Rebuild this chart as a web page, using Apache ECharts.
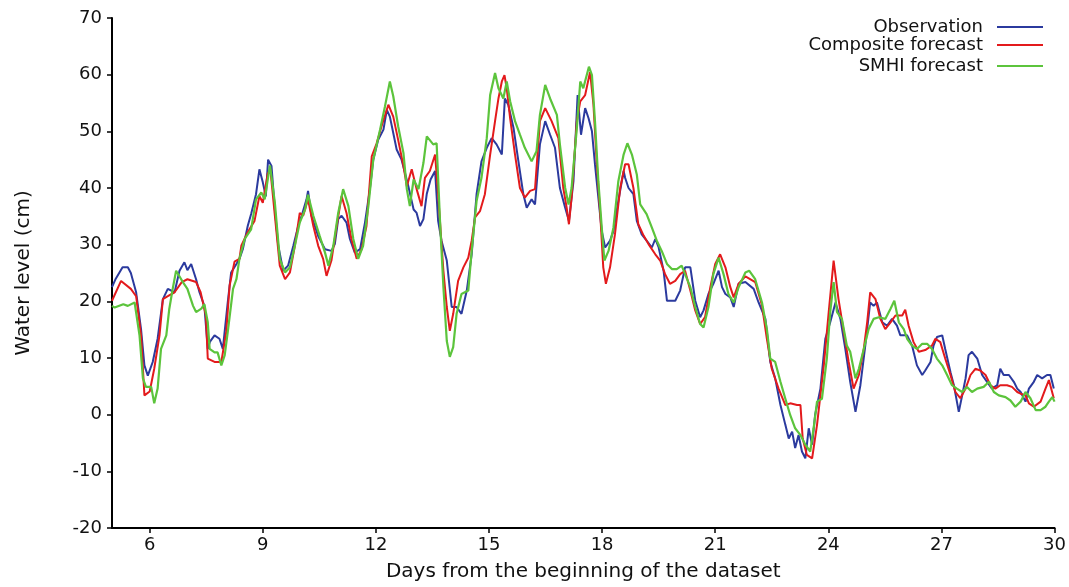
<!DOCTYPE html>
<html>
<head>
<meta charset="utf-8">
<script src="https://cdn.jsdelivr.net/npm/echarts@6/dist/echarts.min.js"></script>
<style>html,body{margin:0;padding:0;background:#fff}#c{width:1069px;height:587px}</style>
</head>
<body>
<div id="c"></div>
<script>
const xTicks = [6, 9, 12, 15, 18, 21, 24, 27, 30];
const seriesNames = ['Observation', 'Composite forecast', 'SMHI forecast'];

const observation = [[5.0,22.5],[5.1,24],[5.28,26],[5.42,26],[5.5,25],[5.64,21.6],[5.77,15.1],[5.86,8.7],[5.95,6.9],[6.08,9.3],[6.21,13.4],[6.35,20.4],[6.48,22.2],[6.66,21.6],[6.79,25.4],[6.92,26.9],[7.0,25.5],[7.1,26.6],[7.23,23.9],[7.32,21.6],[7.45,19.2],[7.54,11.6],[7.6,12.9],[7.72,14],[7.85,13.4],[7.94,11.6],[8.07,19.8],[8.16,25.1],[8.3,26.6],[8.38,27.5],[8.47,29.2],[8.6,33.3],[8.69,35.4],[8.82,38.9],[8.91,43.3],[9.0,41],[9.08,38.5],[9.14,45],[9.23,43.9],[9.32,36.2],[9.41,29.8],[9.54,25.4],[9.67,26.3],[9.81,29.8],[9.94,33.3],[10.03,35.1],[10.16,38],[10.2,39.5],[10.29,35.1],[10.47,31.5],[10.65,29.2],[10.82,28.9],[10.91,30.1],[11.0,34.5],[11.09,35.1],[11.22,33.9],[11.31,31],[11.44,28.6],[11.58,29.2],[11.71,33.9],[11.84,39.8],[11.93,45],[12.06,48.5],[12.2,50.3],[12.29,53.8],[12.37,52.6],[12.46,49.7],[12.55,46.8],[12.68,45],[12.77,42.7],[12.86,40.3],[13.0,36.2],[13.08,35.6],[13.17,33.3],[13.26,34.5],[13.35,39],[13.45,41.5],[13.57,43],[13.65,34.2],[13.74,30.7],[13.88,27.2],[14.01,19],[14.14,19],[14.27,17.8],[14.41,21.9],[14.54,28.3],[14.67,38.9],[14.8,44.7],[14.94,47.1],[15.07,48.8],[15.2,47.7],[15.34,45.9],[15.42,55.8],[15.51,54.7],[15.65,50.6],[15.78,44.7],[15.91,38.9],[16.0,36.5],[16.13,38],[16.22,37.1],[16.35,47.7],[16.49,51.8],[16.62,49.4],[16.75,47.1],[16.88,40],[17.02,36.5],[17.12,34.2],[17.24,41.2],[17.35,56.4],[17.44,49.4],[17.55,54.1],[17.64,52.3],[17.73,50],[17.81,44.2],[17.9,38.3],[17.99,32.4],[18.08,29.5],[18.21,30.7],[18.3,32.4],[18.43,37.7],[18.57,43],[18.61,41.8],[18.7,40],[18.83,38.9],[18.92,34.2],[19.05,31.8],[19.18,30.7],[19.32,29.5],[19.41,31],[19.5,29.5],[19.63,25.4],[19.72,20.1],[19.94,20.1],[20.07,21.9],[20.2,26],[20.34,26],[20.47,20.1],[20.6,17.2],[20.69,18.4],[20.82,21.3],[20.95,23.1],[21.09,25.4],[21.18,22.5],[21.27,21.3],[21.4,20.7],[21.49,19],[21.62,23.1],[21.8,23.4],[22.02,22.2],[22.15,19.8],[22.33,16.9],[22.46,9.3],[22.59,6.4],[22.73,1.7],[22.86,-1.8],[22.95,-4.2],[23.04,-3],[23.12,-5.9],[23.21,-3.6],[23.3,-6.5],[23.39,-7.7],[23.48,-2.4],[23.57,-5.3],[23.65,0],[23.79,4.6],[23.92,13.4],[24.05,16.3],[24.19,19.8],[24.32,16.9],[24.45,11.6],[24.58,5.8],[24.72,0.5],[24.85,5.2],[24.98,12.2],[25.11,19.8],[25.2,19.2],[25.29,19.8],[25.43,16.3],[25.56,15.7],[25.69,16.9],[25.82,15.7],[25.91,14],[26.09,14],[26.22,12.2],[26.35,8.7],[26.49,7],[26.57,7.8],[26.71,9.3],[26.79,12.2],[26.88,13.7],[27.02,14],[27.1,11.6],[27.24,7.5],[27.33,5.2],[27.41,2.3],[27.46,0.5],[27.55,3.4],[27.64,6.4],[27.72,10.5],[27.81,11.1],[27.95,9.9],[28.08,7],[28.21,5.8],[28.34,4.6],[28.48,5.2],[28.56,8.1],[28.65,7],[28.79,7],[28.92,5.8],[29.01,4.6],[29.1,4],[29.23,2.3],[29.32,4.6],[29.45,5.8],[29.54,7],[29.67,6.4],[29.8,7],[29.89,7],[29.98,4.6]];

const composite = [[5.0,20.1],[5.24,23.6],[5.5,22.2],[5.64,20.9],[5.77,14],[5.86,3.4],[6.0,4.1],[6.12,8.1],[6.26,14],[6.35,20.4],[6.48,20.9],[6.66,21.6],[6.85,23.4],[7.0,23.9],[7.23,23.4],[7.35,21.6],[7.49,17.5],[7.54,9.9],[7.72,9.3],[7.9,9.3],[8.03,14.6],[8.12,22.8],[8.25,27],[8.38,27.5],[8.43,29.8],[8.6,32.2],[8.78,34.2],[8.91,38.6],[9.0,37.4],[9.13,42.5],[9.2,43.3],[9.32,35.1],[9.45,26.3],[9.59,23.9],[9.72,25.1],[9.85,29.8],[9.98,35.6],[10.07,35.1],[10.2,38],[10.34,33.3],[10.47,29.8],[10.6,27.5],[10.69,24.5],[10.82,27.2],[10.96,33.3],[11.09,38.6],[11.22,35.6],[11.35,31],[11.49,27.5],[11.62,29.2],[11.75,33.3],[11.89,45.6],[12.02,47.9],[12.15,50.9],[12.33,54.7],[12.46,52.6],[12.59,48.5],[12.73,43.9],[12.82,40.3],[12.95,43.3],[13.08,39.8],[13.21,36.8],[13.3,41.8],[13.43,43],[13.57,45.9],[13.65,38.9],[13.79,25.4],[13.88,19],[13.96,14.8],[14.05,17.8],[14.18,23.6],[14.32,26],[14.45,27.7],[14.54,30.7],[14.63,34.8],[14.76,35.9],[14.89,38.9],[15.03,45.9],[15.16,51.8],[15.25,55.8],[15.34,58.8],[15.41,59.9],[15.47,57.6],[15.56,52.3],[15.69,45.9],[15.82,40],[15.95,38.3],[16.09,39.5],[16.22,39.8],[16.35,51.8],[16.49,54.1],[16.66,51.8],[16.84,48.8],[16.97,40],[17.06,36.5],[17.12,33.6],[17.19,38.3],[17.33,51.8],[17.42,55.3],[17.55,56.4],[17.68,60.5],[17.77,54.7],[17.86,44.2],[17.95,35.4],[18.03,26],[18.1,23.1],[18.21,26],[18.34,31.8],[18.48,40],[18.61,44.2],[18.7,44.2],[18.83,40],[18.96,33.6],[19.1,31.6],[19.23,30.1],[19.41,28.3],[19.54,27.2],[19.67,24.8],[19.8,23.1],[19.94,23.6],[20.07,24.8],[20.2,25.4],[20.34,21.9],[20.47,18.4],[20.6,16],[20.73,17.2],[20.87,22.5],[21.0,26.6],[21.13,28.3],[21.27,26],[21.4,22.5],[21.49,20.7],[21.62,23.1],[21.8,24.4],[22.06,23.4],[22.24,19.3],[22.37,13.4],[22.5,8.1],[22.68,4.6],[22.86,1.7],[22.99,2],[23.17,1.7],[23.26,1.7],[23.32,-4.2],[23.43,-7.1],[23.57,-7.7],[23.7,-1.8],[23.88,8.7],[24.01,18.1],[24.14,27.2],[24.27,20.4],[24.41,14.6],[24.54,9.3],[24.67,4.6],[24.81,7],[24.94,11.6],[25.03,16.3],[25.11,21.6],[25.25,20.4],[25.38,16.9],[25.51,15.1],[25.65,16.3],[25.78,17.5],[25.96,17.5],[26.04,18.5],[26.13,15.7],[26.26,12.8],[26.4,11.1],[26.57,11.4],[26.75,12.2],[26.84,13.4],[26.97,12.8],[27.1,9.9],[27.24,7],[27.37,4],[27.5,2.9],[27.64,4.6],[27.77,7],[27.9,8.1],[28.03,7.8],[28.17,7],[28.3,5.2],[28.43,4.6],[28.56,5.2],[28.74,5.2],[28.87,4.9],[29.01,4],[29.1,3.7],[29.23,3.4],[29.32,2],[29.45,1.4],[29.63,2.3],[29.76,4.6],[29.85,6.1],[29.98,2.9]];

const smhi = [[5.0,19.2],[5.07,18.9],[5.3,19.5],[5.42,19.2],[5.6,19.8],[5.73,14],[5.82,6.4],[5.9,4.9],[6.04,4.9],[6.12,2],[6.21,4.6],[6.3,11.6],[6.44,14],[6.52,18.7],[6.61,22.2],[6.7,25.4],[6.88,23.4],[7.0,22.2],[7.15,19.2],[7.23,18.1],[7.37,18.7],[7.45,19.5],[7.54,16.3],[7.59,11.6],[7.72,11],[7.8,11],[7.9,8.7],[7.99,10.5],[8.08,15.1],[8.21,22.2],[8.3,23.9],[8.38,27.5],[8.52,31],[8.69,32.7],[8.82,38],[8.96,39.2],[9.05,38],[9.19,44],[9.32,37.4],[9.45,27.5],[9.59,25.1],[9.72,26],[9.85,29.8],[9.98,33.9],[10.12,36.2],[10.2,38.8],[10.34,35.1],[10.51,31.5],[10.65,28.6],[10.74,26.3],[10.87,29.8],[11.0,35.6],[11.13,39.8],[11.27,36.8],[11.4,31],[11.53,27.5],[11.66,29.8],[11.8,36.8],[11.93,45],[12.11,50.3],[12.24,54.4],[12.37,58.8],[12.46,56.2],[12.59,50.9],[12.73,46.2],[12.82,39.8],[12.9,36.8],[13.0,41.5],[13.13,39.8],[13.26,44.4],[13.35,49.1],[13.39,49.4],[13.52,47.7],[13.61,47.9],[13.7,34.2],[13.79,22.5],[13.88,13],[13.96,10.2],[14.05,11.9],[14.14,17.8],[14.27,21.3],[14.45,21.9],[14.54,28.9],[14.67,37.7],[14.8,41.8],[14.94,48.8],[15.03,56.4],[15.16,60.3],[15.25,57.6],[15.38,55.8],[15.47,58.8],[15.56,55.3],[15.69,51.8],[15.82,49.4],[15.95,47.1],[16.13,44.7],[16.26,46.5],[16.35,52.9],[16.49,58.2],[16.62,55.8],[16.8,52.9],[16.88,47.7],[17.02,40],[17.11,37.1],[17.19,40],[17.33,50.6],[17.42,58.8],[17.5,57.6],[17.65,61.4],[17.73,59.9],[17.81,51.8],[17.9,41.2],[17.99,33],[18.06,27.2],[18.17,28.9],[18.3,33],[18.43,41.2],[18.57,45.9],[18.67,47.9],[18.79,45.9],[18.92,42.4],[19.01,37.1],[19.18,35.4],[19.32,33],[19.45,30.7],[19.58,28.9],[19.72,26.6],[19.85,25.7],[19.98,25.7],[20.11,26.3],[20.2,24.8],[20.34,22.5],[20.47,19],[20.6,16],[20.69,15.4],[20.82,19],[20.95,24.8],[21.09,27.7],[21.22,24.8],[21.35,21.3],[21.49,19.8],[21.62,22.5],[21.8,25.1],[21.9,25.4],[22.06,23.9],[22.24,19.8],[22.37,15.1],[22.46,9.9],[22.59,9.3],[22.73,5.8],[22.86,2.8],[22.99,-0.1],[23.12,-2.4],[23.26,-3.6],[23.39,-5.3],[23.52,-6.5],[23.61,-2.4],[23.7,2.3],[23.83,2.8],[23.96,9.9],[24.05,18.1],[24.14,23.4],[24.23,18.1],[24.36,16.9],[24.49,12.2],[24.58,11.1],[24.72,6.4],[24.81,8.1],[24.94,11.6],[25.07,15.1],[25.2,16.9],[25.34,17.2],[25.51,16.9],[25.65,18.7],[25.75,20.1],[25.87,16.3],[26.0,15.1],[26.09,13.4],[26.22,12.2],[26.35,11.6],[26.49,12.5],[26.62,12.5],[26.75,11.6],[26.88,9.9],[27.02,8.7],[27.15,7],[27.28,5.2],[27.41,4.6],[27.55,4],[27.68,4.9],[27.81,4],[27.95,4.6],[28.12,4.9],[28.26,5.8],[28.39,4],[28.52,3.4],[28.7,3.1],[28.83,2.5],[28.96,1.4],[29.1,2.3],[29.23,4],[29.36,2.9],[29.5,0.8],[29.63,0.8],[29.76,1.4],[29.85,2.3],[29.94,3.1],[30.0,2.3]];

const colors = ['#2b3a9e', '#e31a1c', '#5cc43c'];
const FONT = 'DejaVu Sans';

function legendFor(name, top) {
  return {
    data: [name], orient: 'vertical', right: 26, top: top, padding: 0,
    align: 'right', icon: 'rect', itemWidth: 46, itemHeight: 2,
    selectedMode: false,
    textStyle: { fontFamily: FONT, fontSize: 18, color: '#111', padding: [0, 9, 0, 0] }
  };
}

const chart = echarts.init(document.getElementById('c'), null, { renderer: 'canvas' });
chart.setOption({
  animation: false,
  backgroundColor: '#fff',
  color: colors,
  textStyle: { fontFamily: FONT },
  grid: { left: 112, right: 14, top: 18, bottom: 57, containLabel: false },
  legend: [legendFor(seriesNames[0], 18), legendFor(seriesNames[1], 36), legendFor(seriesNames[2], 57)],
  xAxis: {
    type: 'value', min: 5, max: 30,
    name: 'Days from the beginning of the dataset', nameLocation: 'middle', nameGap: 34,
    nameTextStyle: { fontFamily: FONT, fontSize: 20, color: '#111' },
    axisLine: { show: true, onZero: false, lineStyle: { color: '#000', width: 2 } },
    axisTick: { show: true, length: 5, lineStyle: { color: '#000', width: 1.5 }, customValues: xTicks },
    axisLabel: { fontFamily: FONT, fontSize: 18, color: '#111', margin: 8, customValues: xTicks },
    splitLine: { show: false }
  },
  yAxis: {
    type: 'value', min: -20, max: 70, interval: 10,
    name: 'Water level (cm)', nameLocation: 'middle', nameGap: 78,
    nameTextStyle: { fontFamily: FONT, fontSize: 20, color: '#111' },
    axisLine: { show: true, lineStyle: { color: '#000', width: 2 } },
    axisTick: { show: true, length: 5, lineStyle: { color: '#000', width: 1.5 } },
    axisLabel: { fontFamily: FONT, fontSize: 18, color: '#111', margin: 10 },
    splitLine: { show: false }
  },
  series: [
    { name: seriesNames[0], type: 'line', data: observation, showSymbol: false, lineStyle: { width: 2, color: colors[0] }, z: 2 },
    { name: seriesNames[1], type: 'line', data: composite, showSymbol: false, lineStyle: { width: 2, color: colors[1] }, z: 3 },
    { name: seriesNames[2], type: 'line', data: smhi, showSymbol: false, lineStyle: { width: 2.2, color: colors[2] }, z: 4 }
  ]
});
</script>
</body>
</html>
